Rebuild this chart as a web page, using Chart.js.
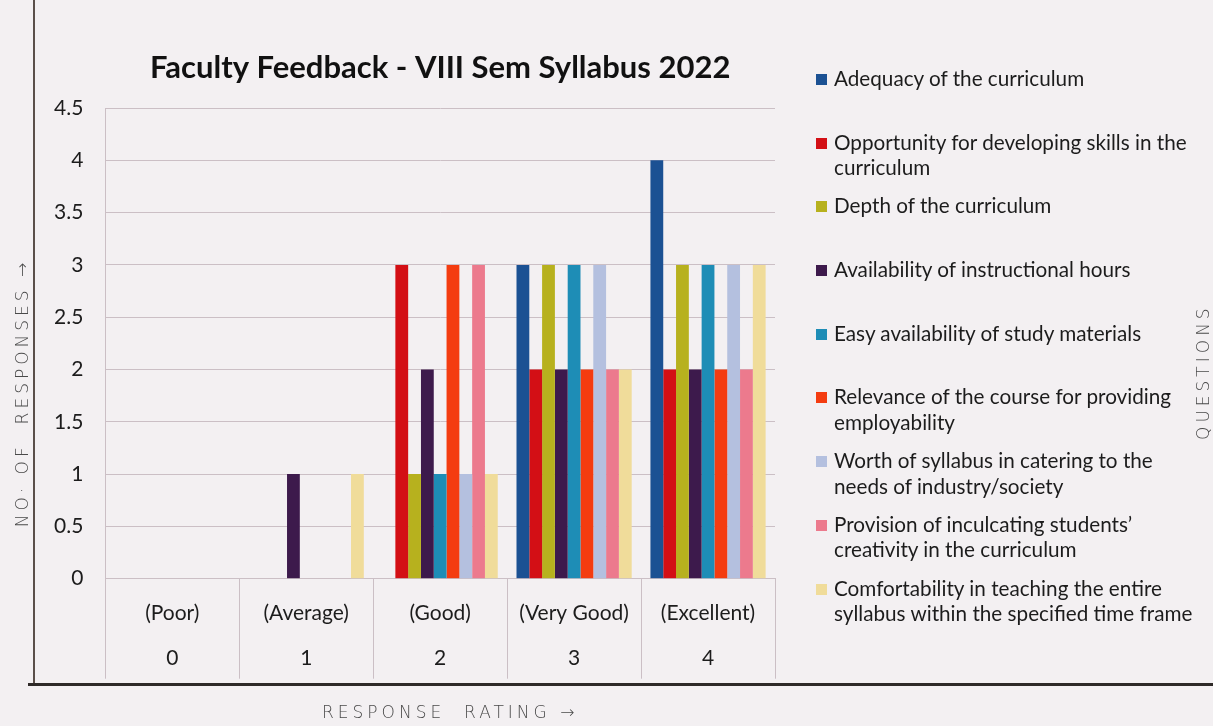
<!DOCTYPE html>
<html>
<head>
<meta charset="utf-8">
<script src="https://cdn.jsdelivr.net/npm/chart.js@4.4.1/dist/chart.umd.min.js"></script>
<style>
  html, body { margin: 0; padding: 0; background: #f3f0f2; }
  #wrap { position: relative; width: 1213px; height: 726px; overflow: hidden; background: #f3f0f2; }
  #chart { position: absolute; left: 0; top: 0; }
  #legend { position: absolute; left: 816px; top: 66px; font-family: Lato, "Open Sans", sans-serif; font-size: 20.7px; color: #1c1c1c; }
  .item { height: 63.7px; display: flex; align-items: flex-start; line-height: 25.5px; }
  .sw { width: 11px; height: 11px; margin: 8px 7px 0 0; flex: none; }
  .hand { position: absolute; font-family: "DejaVu Sans", sans-serif; font-weight: 200; color: #4a4a4a; font-size: 17px; letter-spacing: 4px; white-space: nowrap; }
  .line { position: absolute; background: #5a4f4a; }
</style>
</head>
<body>
<div id="wrap">
  <canvas id="chart" width="1213" height="726"></canvas>
  <div id="legend"></div>
  <div class="line" style="left:33px; top:0; width:1.5px; height:686px;"></div>
  <div class="line" style="left:28px; top:683px; width:1185px; height:3px; background:#2e2a28;"></div>
  <div class="hand" style="left:-143px; top:383px; transform: rotate(-90deg); transform-origin: center; width:330px; text-align:center;">NO· OF &nbsp;RESPONSES →</div>
  <div class="hand" style="left:322px; top:702px;">RESPONSE &nbsp;RATING →</div>
  <div class="hand" style="left:1138px; top:365px; transform: rotate(-90deg); transform-origin: center; width:130px; text-align:center;">QUESTIONS</div>
</div>
<script>
// categories (response rating)
const ratingNames = ['(Poor)', '(Average)', '(Good)', '(Very Good)', '(Excellent)'];
const ratingValues = ['0', '1', '2', '3', '4'];

// questions (legend lines)
const questions = [
  ['Adequacy of the curriculum'],
  ['Opportunity for developing skills in the', 'curriculum'],
  ['Depth of the curriculum'],
  ['Availability of instructional hours'],
  ['Easy availability of study materials'],
  ['Relevance of the course for providing', 'employability'],
  ['Worth of syllabus in catering to the', 'needs of industry/society'],
  ['Provision of inculcating students\u2019', 'creativity in the curriculum'],
  ['Comfortability in teaching the entire', 'syllabus within the specified time frame']
];

// no. of responses per rating
const adequacy     = [0, 0, 0, 3, 4];
const opportunity  = [0, 0, 3, 2, 2];
const depth        = [0, 0, 1, 3, 3];
const availability = [0, 1, 2, 2, 2];
const easy         = [0, 0, 1, 3, 3];
const relevance    = [0, 0, 3, 2, 2];
const worth        = [0, 0, 1, 3, 3];
const provision    = [0, 0, 3, 2, 2];
const comfort      = [0, 1, 1, 2, 3];

const yTicks = [0, 0.5, 1, 1.5, 2, 2.5, 3, 3.5, 4, 4.5];

const series = [adequacy, opportunity, depth, availability, easy, relevance, worth, provision, comfort];
const colors = [
  '#1b5193', // blue
  '#d30f15', // red
  '#b7b11e', // olive
  '#3d1a4c', // dark purple
  '#1e8db6', // teal
  '#f43c10', // orange red
  '#b4c0df', // lavender
  '#ec7a8d', // pink
  '#f0dc9a'  // pale yellow
];

const gridColor = '#cbbfc5';

// title centred over the plot + table-like separators under the x axis
const extrasPlugin = {
  id: 'extras',
  afterDraw(chart) {
    const { ctx, chartArea } = chart;
    const xs = chart.scales.x;
    ctx.save();
    ctx.font = 'bold 31px Lato, "Open Sans", sans-serif';
    ctx.fillStyle = '#111';
    ctx.textAlign = 'center';
    ctx.textBaseline = 'middle';
    ctx.fillText('Faculty Feedback - VIII Sem Syllabus 2022', (chartArea.left + chartArea.right) / 2, 68);

    const n = xs.ticks.length;
    const step = (chartArea.right - chartArea.left) / n;
    ctx.strokeStyle = gridColor;
    ctx.lineWidth = 1;
    for (let i = 0; i <= n; i++) {
      const x = Math.round(chartArea.left + i * step) + 0.5;
      ctx.beginPath();
      ctx.moveTo(x, chartArea.bottom);
      ctx.lineTo(x, chartArea.bottom + 100);
      ctx.stroke();
    }
    ctx.restore();
  }
};

const ctx = document.getElementById('chart').getContext('2d');
new Chart(ctx, {
  type: 'bar',
  data: {
    labels: ratingNames.map((n, i) => [n, ratingValues[i]]),
    datasets: series.map((d, i) => ({
      label: questions[i].join(' '),
      data: d,
      backgroundColor: colors[i],
      borderWidth: 0,
      categoryPercentage: 0.86,
      barPercentage: 1
    }))
  },
  options: {
    responsive: false,
    animation: false,
    layout: { padding: { left: 32, top: 108, right: 438, bottom: 41 } },
    plugins: {
      legend: { display: false },
      tooltip: { enabled: false }
    },
    scales: {
      x: {
        grid: { display: false },
        border: { color: gridColor },
        ticks: {
          padding: 4,
          maxRotation: 0,
          autoSkip: false,
          color: '#1c1c1c',
          font: { family: 'Lato, "Open Sans", sans-serif', size: 21, lineHeight: 2.15 }
        }
      },
      y: {
        min: 0,
        max: 4.5,
        afterBuildTicks: (axis) => { axis.ticks = yTicks.map(v => ({ value: v })); },
        grid: { color: gridColor, drawTicks: false },
        border: { color: gridColor },
        ticks: {
          padding: 22,
          color: '#1c1c1c',
          font: { family: 'Lato, "Open Sans", sans-serif', size: 21 },
          callback: (v) => String(v)
        }
      }
    }
  },
  plugins: [extrasPlugin]
});

// legend on the right
const legend = document.getElementById('legend');
questions.forEach((lines, i) => {
  const item = document.createElement('div');
  item.className = 'item';
  const sw = document.createElement('div');
  sw.className = 'sw';
  sw.style.background = colors[i];
  const txt = document.createElement('div');
  txt.innerHTML = lines.join('<br>');
  item.appendChild(sw);
  item.appendChild(txt);
  legend.appendChild(item);
});
</script>
</body>
</html>
